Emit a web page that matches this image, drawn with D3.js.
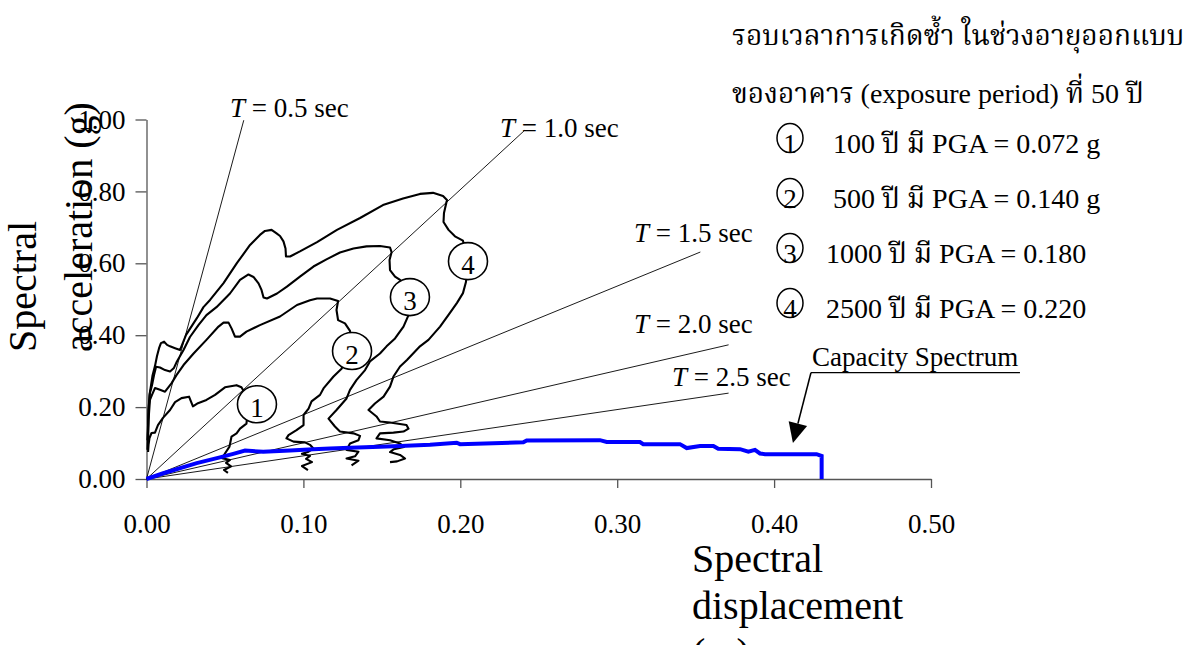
<!DOCTYPE html>
<html>
<head>
<meta charset="utf-8">
<script src="https://cdn.jsdelivr.net/npm/d3@7"></script>
<style>
  html, body { margin: 0; padding: 0; background: #fff; }
  svg { display: block; }
  text { font-family: "Liberation Serif", "Times New Roman", "Noto Serif Thai", "Noto Sans Thai", serif; fill: #000; }
</style>
</head>
<body>
<svg id="chart" width="1200" height="645"></svg>
<script>
// ---- data -------------------------------------------------------------
const xTicks = [0, 0.1, 0.2, 0.3, 0.4, 0.5];
const yTicks = [0, 0.2, 0.4, 0.6, 0.8, 1.0];

// constant-period lines, Sa = 4*pi^2*Sd / (g*T^2)
const periods = [0.5, 1.0, 1.5, 2.0, 2.5];
const periodLineEnds = [0.062, 0.241, 0.353, 0.371, 0.371];   // Sd (m) where each line stops

const returnPeriods = [100, 500, 1000, 2500];
const pgaLabels = ["0.072 g", "0.140 g", "0.180", "0.220"];

// demand spectra [Sd (m), Sa (g)]
const demand100 = [
  [0.0010,0.075],[0.0013,0.095],[0.0019,0.114],[0.0032,0.128],[0.0054,0.129],[0.0073,0.150],
  [0.0105,0.170],[0.0150,0.192],[0.0182,0.214],[0.0223,0.225],[0.0271,0.229],[0.0296,0.202],
  [0.0328,0.211],[0.0382,0.220],[0.0437,0.234],[0.0500,0.255],[0.0574,0.261],[0.0605,0.255],
  [0.0634,0.234],[0.0647,0.192],[0.0637,0.154],[0.0596,0.140],[0.0574,0.127],[0.0542,0.118],
  [0.0529,0.090],[0.0500,0.071],[0.0481,0.058],[0.0532,0.053],[0.0507,0.045],[0.0539,0.035],
  [0.0494,0.025],[0.0519,0.017]
];
const demand500 = [
  [0.0010,0.108],[0.0013,0.164],[0.0022,0.220],[0.0035,0.234],[0.0054,0.253],[0.0086,0.248],
  [0.0118,0.243],[0.0159,0.266],[0.0191,0.289],[0.0236,0.317],[0.0300,0.349],[0.0382,0.387],
  [0.0459,0.424],[0.0491,0.435],[0.0523,0.435],[0.0542,0.419],[0.0564,0.396],[0.0596,0.396],
  [0.0637,0.410],[0.0723,0.428],[0.0851,0.452],[0.0959,0.484],[0.1042,0.497],[0.1087,0.502],
  [0.1170,0.502],[0.1221,0.495],[0.1211,0.470],[0.1221,0.442],[0.1265,0.433],[0.1297,0.412],
  [0.1310,0.359],[0.1243,0.307],[0.1192,0.285],[0.1128,0.252],[0.1106,0.234],[0.1052,0.216],
  [0.1033,0.196],[0.1001,0.178],[0.1001,0.150],[0.0956,0.136],[0.0905,0.122],[0.0892,0.113],
  [0.0937,0.104],[0.1010,0.102],[0.1042,0.095],[0.1064,0.085],[0.1033,0.076],[0.0991,0.070],
  [0.1042,0.064],[0.1017,0.056],[0.1055,0.047],[0.0991,0.036],[0.1029,0.025]
];
const demand1000 = [
  [0.0006,0.108],[0.0010,0.150],[0.0013,0.192],[0.0022,0.239],[0.0035,0.261],[0.0048,0.289],
  [0.0061,0.312],[0.0086,0.310],[0.0118,0.303],[0.0150,0.299],[0.0175,0.309],[0.0194,0.327],
  [0.0236,0.359],[0.0277,0.395],[0.0331,0.428],[0.0382,0.456],[0.0446,0.478],[0.0532,0.516],
  [0.0596,0.554],[0.0650,0.569],[0.0682,0.562],[0.0714,0.544],[0.0733,0.526],[0.0746,0.505],
  [0.0768,0.502],[0.0832,0.516],[0.0895,0.535],[0.0978,0.563],[0.1064,0.591],[0.1147,0.611],
  [0.1233,0.630],[0.1319,0.641],[0.1402,0.647],[0.1488,0.648],[0.1552,0.644],[0.1562,0.631],
  [0.1549,0.609],[0.1552,0.581],[0.1584,0.563],[0.1616,0.554],[0.1679,0.506],[0.1670,0.456],
  [0.1638,0.424],[0.1584,0.391],[0.1530,0.369],[0.1488,0.349],[0.1424,0.327],[0.1393,0.303],
  [0.1338,0.275],[0.1297,0.248],[0.1275,0.224],[0.1211,0.192],[0.1160,0.168],[0.1201,0.146],
  [0.1233,0.132],[0.1319,0.127],[0.1361,0.120],[0.1351,0.108],[0.1297,0.099],[0.1275,0.081],
  [0.1351,0.076],[0.1329,0.063],[0.1275,0.057],[0.1351,0.051],[0.1307,0.038]
];
const demand2500 = [
  [0.0006,0.081],[0.0010,0.136],[0.0013,0.192],[0.0019,0.234],[0.0029,0.261],[0.0038,0.287],
  [0.0054,0.314],[0.0067,0.342],[0.0080,0.364],[0.0092,0.378],[0.0112,0.382],[0.0131,0.373],
  [0.0150,0.369],[0.0182,0.364],[0.0214,0.359],[0.0252,0.401],[0.0322,0.448],[0.0363,0.478],
  [0.0405,0.498],[0.0491,0.545],[0.0577,0.601],[0.0660,0.651],[0.0723,0.679],[0.0755,0.690],
  [0.0797,0.693],[0.0829,0.683],[0.0851,0.676],[0.0873,0.661],[0.0886,0.641],[0.0889,0.619],
  [0.0915,0.619],[0.0978,0.633],[0.1087,0.659],[0.1214,0.693],[0.1361,0.726],[0.1507,0.762],
  [0.1635,0.780],[0.1743,0.793],[0.1826,0.796],[0.1890,0.787],[0.1915,0.776],[0.1896,0.740],
  [0.1893,0.715],[0.1925,0.693],[0.1966,0.675],[0.2017,0.663],[0.2049,0.606],[0.2036,0.548],
  [0.2017,0.517],[0.1979,0.490],[0.1934,0.462],[0.1871,0.424],[0.1797,0.387],[0.1743,0.369],
  [0.1660,0.331],[0.1616,0.313],[0.1574,0.285],[0.1552,0.257],[0.1511,0.229],[0.1456,0.210],
  [0.1415,0.192],[0.1466,0.174],[0.1488,0.160],[0.1552,0.157],[0.1657,0.150],[0.1670,0.140],
  [0.1638,0.132],[0.1574,0.129],[0.1488,0.127],[0.1466,0.113],[0.1552,0.108],[0.1616,0.099],
  [0.1641,0.089],[0.1577,0.083],[0.1552,0.075],[0.1616,0.067],[0.1648,0.057],[0.1597,0.049],
  [0.1552,0.047]
];
const demandSpectra = [demand100, demand500, demand1000, demand2500];

// numbered markers on each demand spectrum [Sd, Sa]
const markerPoints = [[0.0704,0.208],[0.1310,0.356],[0.1679,0.506],[0.2049,0.606]];

// building capacity spectrum [Sd (m), Sa (g)]
const capacity = [
  [0,0],[0.0107,0.016],[0.0320,0.044],[0.0468,0.060],[0.0553,0.070],[0.0628,0.079],
  [0.0744,0.076],[0.0915,0.079],[0.1063,0.083],[0.1170,0.085],[0.1297,0.087],[0.1488,0.090],
  [0.1616,0.092],[0.1807,0.095],[0.1977,0.101],[0.1998,0.097],[0.2402,0.102],[0.2423,0.107],
  [0.2890,0.108],[0.2933,0.103],[0.3145,0.103],[0.3166,0.097],[0.3400,0.097],[0.3443,0.086],
  [0.3528,0.092],[0.3613,0.092],[0.3644,0.084],[0.3783,0.083],[0.3836,0.076],[0.3878,0.081],
  [0.3910,0.071],[0.3942,0.069],[0.4271,0.069],[0.4303,0.064],[0.4303,0]
];

// callout for the capacity curve [Sd, Sa]
const calloutTip = [0.412, 0.100];
const calloutElbow = [0.4235, 0.296];
const calloutEnd = [0.5567, 0.296];

// ---- layout -------------------------------------------------------------
const svg = d3.select("#chart");
svg.append("rect").attr("width", 1200).attr("height", 645).attr("fill", "#fff");

const x = d3.scaleLinear().domain([0, 0.5]).range([146.5, 931]);
const y = d3.scaleLinear().domain([0, 1]).range([479, 119.5]);
const fmt = d3.format(".2f");
const G = 9.81;
const axisColor = "#555";
const tickFont = 27;

// axes
const yAxis = svg.append("g").attr("transform", `translate(${x(0)},0)`)
  .call(d3.axisLeft(y).tickValues(yTicks).tickSize(11).tickSizeOuter(0).tickPadding(10).tickFormat(fmt));
const xAxis = svg.append("g").attr("transform", `translate(0,${y(0)})`)
  .call(d3.axisBottom(x).tickValues(xTicks).tickSize(9).tickSizeOuter(0).tickPadding(26).tickFormat(fmt));
[yAxis, xAxis].forEach(g => {
  g.attr("font-family", null).attr("font-size", null);
  g.select(".domain").attr("stroke", axisColor).attr("stroke-width", 1.3);
  g.selectAll(".tick line").attr("stroke", axisColor).attr("stroke-width", 1.3);
  g.selectAll(".tick text").style("font-size", tickFont + "px").attr("fill", "#000");
});

// constant-period lines
const periodG = svg.append("g");
periods.forEach((T, i) => {
  const slope = 4 * Math.PI * Math.PI / (G * T * T);
  const sdEnd = periodLineEnds[i];
  periodG.append("line")
    .attr("x1", x(0)).attr("y1", y(0))
    .attr("x2", x(sdEnd)).attr("y2", y(slope * sdEnd))
    .attr("stroke", "#000").attr("stroke-width", 0.9);
});

// period labels
const periodLabelPos = [[230, 117], [500, 137], [634, 242], [634, 333], [672, 386]];
periods.forEach((T, i) => {
  const t = svg.append("text")
    .attr("x", periodLabelPos[i][0]).attr("y", periodLabelPos[i][1])
    .style("font-size", "27px");
  t.append("tspan").style("font-style", "italic").text("T");
  t.append("tspan").text(` = ${T.toFixed(1)} sec`);
});

// demand spectra
const line = d3.line().x(d => x(d[0])).y(d => y(d[1]));
svg.append("g").selectAll("path").data(demandSpectra).join("path")
  .attr("d", line)
  .attr("fill", "none").attr("stroke", "#000").attr("stroke-width", 2.1)
  .attr("stroke-linejoin", "round");

// capacity spectrum
svg.append("path").datum(capacity)
  .attr("d", line)
  .attr("fill", "none").attr("stroke", "#0000ff").attr("stroke-width", 4)
  .attr("stroke-linejoin", "miter");

// numbered markers
const markers = svg.append("g").selectAll("g").data(markerPoints).join("g")
  .attr("transform", d => `translate(${x(d[0])},${y(d[1])})`);
markers.append("ellipse").attr("rx", 19.5).attr("ry", 18.5)
  .attr("fill", "#fff").attr("stroke", "#000").attr("stroke-width", 1.6);
markers.append("text").attr("text-anchor", "middle").attr("y", 12.5)
  .style("font-size", "27px").text((d, i) => i + 1);

// callout for the capacity spectrum
svg.append("text").attr("x", x(calloutElbow[0]) + 1).attr("y", y(calloutElbow[1]) - 6.5)
  .style("font-size", "27px").text("Capacity Spectrum");
svg.append("polyline")
  .attr("points", [[calloutEnd[0], calloutEnd[1]], calloutElbow].map(p => [x(p[0]), y(p[1])].join(",")).join(" "))
  .attr("fill", "none").attr("stroke", "#000").attr("stroke-width", 1.3);
{
  const tx = x(calloutTip[0]), ty = y(calloutTip[1]);
  const ex = x(calloutElbow[0]), ey = y(calloutElbow[1]);
  const len = Math.hypot(tx - ex, ty - ey);
  const ux = (tx - ex) / len, uy = (ty - ey) / len;
  const headLen = 20, halfW = 9.5;
  const bx = tx - ux * headLen, by = ty - uy * headLen;
  svg.append("line").attr("x1", ex).attr("y1", ey).attr("x2", bx).attr("y2", by)
    .attr("stroke", "#000").attr("stroke-width", 1.6);
  svg.append("polygon")
    .attr("points", [[tx, ty], [bx - uy * halfW, by + ux * halfW], [bx + uy * halfW, by - ux * halfW]].map(p => p.join(",")).join(" "))
    .attr("fill", "#000");
}

// legend
const legend = svg.append("g");
legend.append("text").attr("x", 732).attr("y", 45).style("font-size", "28px")
  .text("รอบเวลาการเกิดซ้ำ ในช่วงอายุออกแบบ");
legend.append("text").attr("x", 732).attr("y", 103).style("font-size", "28px")
  .text("ของอาคาร (exposure period) ที่ 50 ปี");
returnPeriods.forEach((rp, i) => {
  const cy = 138 + i * 55;
  legend.append("ellipse").attr("cx", 790).attr("cy", cy).attr("rx", 13).attr("ry", 14.5)
    .attr("fill", "none").attr("stroke", "#000").attr("stroke-width", 1.5);
  legend.append("text").attr("x", 790).attr("y", cy + 15).attr("text-anchor", "middle")
    .style("font-size", "27px").text(i + 1);
  legend.append("text").attr("x", rp < 1000 ? 833 : 826).attr("y", cy + 15)
    .style("font-size", "28px").text(`${rp} ปี มี PGA = ${pgaLabels[i]}`);
});

// axis titles
const yTitle = svg.append("g").attr("transform", "translate(0,352) rotate(-90)");
yTitle.append("text").attr("x", 0).attr("y", 36).style("font-size", "40px").text("Spectral");
yTitle.append("text").attr("x", 0).attr("y", 92).style("font-size", "40px").text("acceleration (g)");

const xTitle = svg.append("g");
["Spectral", "displacement", "(m)"].forEach((s, i) => {
  xTitle.append("text").attr("x", 692).attr("y", 572 + i * 47).style("font-size", "40px").text(s);
});
</script>
</body>
</html>
